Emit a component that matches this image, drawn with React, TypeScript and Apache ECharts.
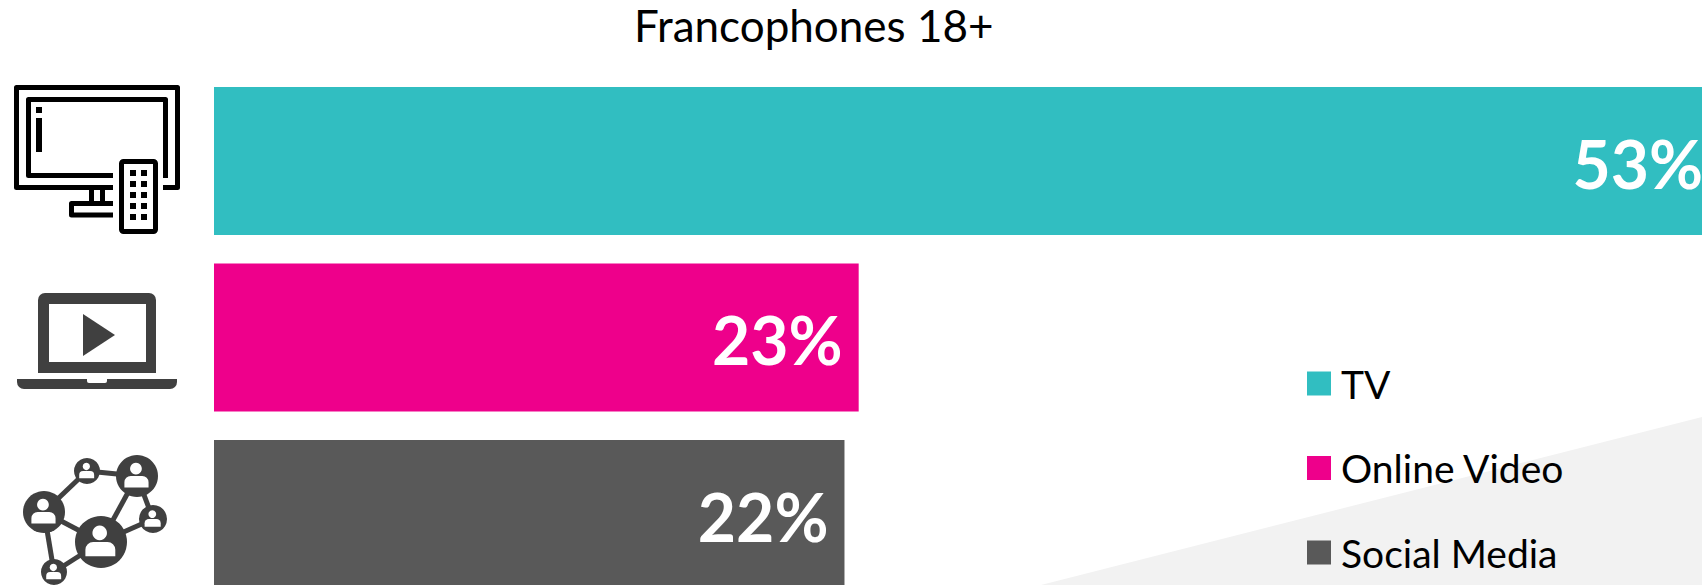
import React, { useEffect, useRef } from "react";
import * as echarts from "echarts";

const titleText = "Francophones 18+";
const categories = ["TV", "Online Video", "Social Media"];
const tvValues = [53, null, null];
const videoValues = [null, 22.7, null];
const socialValues = [null, null, 22.2];
const TEAL = "#31BEC1";
const PINK = "#EE008B";
const GREY = "#595959";
const ICON = "#404040";
const FONT = "Lato";

const line = (points: number[][], stroke: string, lineWidth = 5) => ({
  type: "polyline", z: 10, shape: { points }, style: { fill: "none", stroke, lineWidth, lineJoin: "round", lineCap: "butt" },
});
const box = (x: number, y: number, width: number, height: number, fill: string, r: any = 0, z = 10) => ({
  type: "rect", z, shape: { x, y, width, height, r }, style: { fill },
});

function tvIcon() {
  const k = "#000000";
  const out: any[] = [
    line([[113, 187.5], [16.5, 187.5], [16.5, 87.5], [177.5, 87.5], [177.5, 187.5], [163, 187.5]], k),
    line([[113, 175.5], [28.5, 175.5], [28.5, 99.5], [165.5, 99.5], [165.5, 178]], k),
    box(36, 107, 6, 6, k), box(36, 118, 6, 34, k),
    box(89, 190, 5, 11, k), box(100, 190, 5, 11, k),
    line([[113, 203.5], [71.5, 203.5], [71.5, 215], [113, 215]], k),
    { type: "rect", z: 10, shape: { x: 121.5, y: 161.5, width: 34, height: 70, r: 2 }, style: { fill: "none", stroke: k, lineWidth: 5 } },
  ];
  [130, 141].forEach((x) => [170, 181, 192, 203, 214].forEach((y) => out.push(box(x, y, 6, 6, k))));
  return out;
}

function laptopIcon() {
  return [
    box(38, 293, 118, 80, ICON, [7, 7, 0, 0]),
    box(49, 304, 97, 58, "#ffffff", 0, 11),
    { type: "polygon", z: 12, shape: { points: [[83, 314], [115, 335], [83, 356]] }, style: { fill: ICON } },
    box(17, 379, 160, 10, ICON, [0, 0, 7, 7]),
    box(87, 379, 20, 4, "#ffffff", [0, 0, 2, 2], 11),
  ];
}

function networkIcon() {
  const nodes: Record<string, number[]> = {
    c: [101, 542, 26], tr: [137, 476, 21], l: [44, 512, 21], t: [87, 471, 13], r: [153, 519, 14], b: [54, 572, 13],
  };
  const edges = [["l", "t"], ["t", "tr"], ["tr", "c"], ["tr", "r"], ["c", "r"], ["c", "l"], ["l", "b"], ["b", "c"]];
  const out: any[] = edges.map(([a, b]) => line([nodes[a].slice(0, 2), nodes[b].slice(0, 2)], ICON));
  Object.values(nodes).forEach(([cx, cy, r]) => {
    out.push({ type: "circle", z: 11, shape: { cx, cy, r }, style: { fill: ICON } });
    out.push({ type: "circle", z: 12, shape: { cx: cx - 0.05 * r, cy: cy - 0.35 * r, r: 0.28 * r }, style: { fill: "#ffffff" } });
    out.push(box(cx - 0.6 * r, cy, 1.15 * r, 0.55 * r, "#ffffff", [0.3 * r, 0.3 * r, 0, 0], 12));
  });
  return out;
}

const barSeries = (name: string, data: (number | null)[], color: string) => ({
  name,
  type: "bar",
  stack: "share",
  data,
  barWidth: 148,
  z: 5,
  itemStyle: { color },
  label: {
    show: true,
    position: "insideRight",
    distance: 16,
    offset: [0, 2],
    color: "#ffffff",
    fontFamily: FONT,
    fontWeight: "bold",
    fontSize: 66,
    formatter: (p: any) => `${Math.round(p.value)}%`,
  },
});

export default function App() {
  const ref = useRef<HTMLDivElement>(null);
  useEffect(() => {
    const chart = echarts.init(ref.current!, null, { renderer: "svg" });
    chart.setOption({
      animation: false,
      backgroundColor: "#ffffff",
      title: {
        text: titleText,
        left: 634,
        top: 3,
        padding: 0,
        textStyle: { fontFamily: FONT, fontWeight: "normal", fontSize: 44, color: "#000000" },
      },
      legend: {
        data: categories,
        orient: "vertical",
        left: 1307,
        top: 364,
        padding: 0,
        itemWidth: 24,
        itemHeight: 24,
        itemGap: 45.5,
        icon: "rect",
        selectedMode: false,
        textStyle: { fontFamily: FONT, fontSize: 39, color: "#000000", padding: [0, 0, 0, 5] },
      },
      grid: { left: 214, top: 72.75, width: 1704, height: 529.5, outerBoundsMode: "none" },
      xAxis: { type: "value", min: 0, max: 60, show: false },
      yAxis: { type: "category", data: categories, inverse: true, show: false },
      series: [barSeries(categories[0], tvValues, TEAL), barSeries(categories[1], videoValues, PINK), barSeries(categories[2], socialValues, GREY)],
      graphic: [
        { type: "polygon", z: -1, shape: { points: [[1041, 585], [1702, 417], [1702, 585]] }, style: { fill: "#F2F2F2" } },
        ...tvIcon(),
        ...laptopIcon(),
        ...networkIcon(),
      ],
    });
    return () => chart.dispose();
  }, []);
  return <div ref={ref} style={{ position: "fixed", left: 0, top: 0, width: 1702, height: 585, overflow: "hidden" }} />;
}
